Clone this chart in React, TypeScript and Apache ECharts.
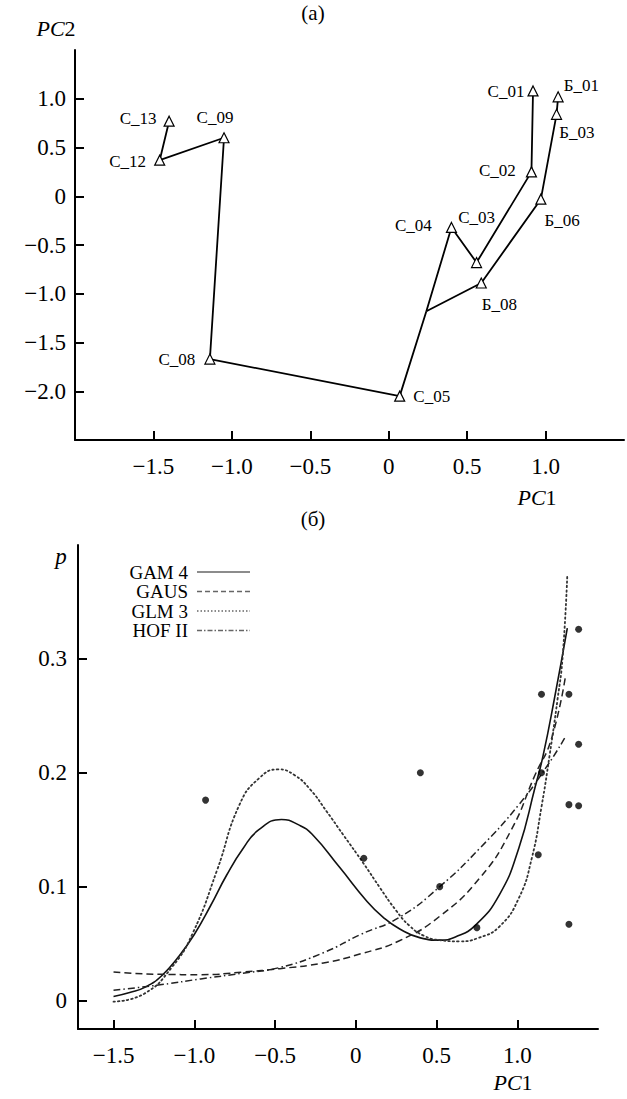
import React, { useEffect, useRef } from 'react';
import * as echarts from 'echarts';

const SERIF = 'Liberation Serif, Times New Roman, DejaVu Serif, serif';

// ---------- Panel (а): ordination PC1 / PC2 ----------
const trunkNames = ['С_13', 'С_12', 'С_09', 'С_08', 'С_05', ''];
const trunkPC1 = [-1.40, -1.46, -1.05, -1.14, 0.07, 0.24];
const trunkPC2 = [0.77, 0.37, 0.60, -1.67, -2.05, -1.18];

const cBranchNames = ['', 'С_04', 'С_03', 'С_02', 'С_01'];
const cBranchPC1 = [0.24, 0.40, 0.56, 0.91, 0.92];
const cBranchPC2 = [-1.18, -0.32, -0.68, 0.25, 1.08];

const bBranchNames = ['', 'Б_08', 'Б_06', 'Б_03', 'Б_01'];
const bBranchPC1 = [0.24, 0.59, 0.97, 1.07, 1.08];
const bBranchPC2 = [-1.18, -0.89, -0.03, 0.84, 1.02];

const topXTicks = [-1.5, -1.0, -0.5, 0, 0.5, 1.0];
const topYTicks = [-2.0, -1.5, -1.0, -0.5, 0, 0.5, 1.0];

// ---------- Panel (б): response curves ----------
const obsPC1 = [-0.93, 0.05, 0.40, 0.52, 0.75, 1.13, 1.15, 1.15, 1.32, 1.32, 1.32, 1.38, 1.38, 1.38];
const obsP = [0.176, 0.125, 0.20, 0.10, 0.064, 0.128, 0.20, 0.269, 0.067, 0.172, 0.269, 0.171, 0.225, 0.326];

const gamX = [-1.5, -1.4, -1.3, -1.2, -1.1, -1.0, -0.9, -0.8, -0.7, -0.6, -0.46, -0.35, -0.27, -0.1, 0.07, 0.17, 0.27, 0.4, 0.52, 0.62, 0.74, 0.89, 1.01, 1.11, 1.16, 1.23, 1.31];
const gamY = [0.0035, 0.007, 0.012, 0.022, 0.038, 0.058, 0.083, 0.11, 0.133, 0.15, 0.159, 0.154, 0.146, 0.117, 0.087, 0.073, 0.063, 0.055, 0.053, 0.056, 0.066, 0.093, 0.134, 0.187, 0.215, 0.265, 0.327];

const gausX = [-1.5, -1.2, -0.96, -0.7, -0.47, -0.2, 0.03, 0.27, 0.52, 0.77, 0.96, 1.11, 1.21, 1.3];
const gausY = [0.025, 0.023, 0.0227, 0.025, 0.028, 0.033, 0.041, 0.0525, 0.074, 0.108, 0.149, 0.198, 0.229, 0.286];

const glmX = [-1.5, -1.31, -1.14, -1.01, -0.86, -0.72, -0.6, -0.48, -0.38, -0.28, -0.18, -0.08, 0.05, 0.15, 0.25, 0.33, 0.42, 0.52, 0.64, 0.76, 0.89, 1.01, 1.09, 1.15, 1.2, 1.25, 1.28, 1.31];
const glmY = [-0.001, 0.006, 0.029, 0.059, 0.114, 0.172, 0.195, 0.203, 0.198, 0.185, 0.166, 0.146, 0.12, 0.099, 0.079, 0.066, 0.057, 0.053, 0.052, 0.055, 0.065, 0.09, 0.125, 0.17, 0.215, 0.265, 0.3, 0.374];

const hofX = [-1.5, -1.2, -0.96, -0.7, -0.47, -0.2, 0.03, 0.27, 0.52, 0.77, 1.01, 1.19, 1.3];
const hofY = [0.009, 0.014, 0.019, 0.024, 0.029, 0.042, 0.058, 0.073, 0.1, 0.134, 0.172, 0.207, 0.232];

const bottomXTicks = [-1.5, -1.0, -0.5, 0, 0.5, 1.0];
const bottomYTicks = [0, 0.1, 0.2, 0.3];

const legendNames = ['GAM 4', 'GAUS', 'GLM 3', 'HOF II'];

// ---------- styling (not data) ----------
const labelPlacement: Record<string, { position: string; offset: [number, number] }> = {
  'С_13': { position: 'left', offset: [-2, -3] },
  'С_12': { position: 'left', offset: [-3, 1] },
  'С_09': { position: 'top', offset: [-9, -1] },
  'С_08': { position: 'left', offset: [-4, 0] },
  'С_05': { position: 'right', offset: [3, 0] },
  'С_04': { position: 'left', offset: [-9, -2] },
  'С_03': { position: 'top', offset: [0, -26] },
  'С_02': { position: 'left', offset: [-5, -1] },
  'С_01': { position: 'left', offset: [2, 1] },
  'Б_01': { position: 'right', offset: [-5, -11] },
  'Б_03': { position: 'right', offset: [-8, 18] },
  'Б_06': { position: 'right', offset: [-7, 21] },
  'Б_08': { position: 'right', offset: [-10, 21] },
};

const lineStyles: any[] = [
  { type: 'solid', width: 1.6, color: '#111' },
  { type: [7, 4], width: 1.5, color: '#222' },
  { type: [1.5, 3], width: 1.8, color: '#333', cap: 'round' },
  { type: [7, 3, 1.5, 3], width: 1.5, color: '#222' },
];
const legendDash: any[] = [null, [5, 3], [1.5, 2], [5, 2, 1.5, 2]];

const fmt = (v: number) => {
  if (Math.abs(v) < 1e-9) return '0';
  const s = Math.abs(v).toFixed(1);
  return v < 0 ? '−' + s : s;
};

const zip = (xs: number[], ys: number[]) => xs.map((x, i) => [x, ys[i]]);

const pointData = (names: string[], xs: number[], ys: number[]) =>
  names.map((n, i) => {
    if (!n) {
      return { name: '', value: [xs[i], ys[i]], symbol: 'none', label: { show: false } };
    }
    const p = labelPlacement[n];
    return {
      name: n,
      value: [xs[i], ys[i]],
      label: { show: true, position: p.position, offset: p.offset },
    };
  });

const makeAxis = (labelSize: number, margin: number, ticks: number[]) => ({
  axisLine: { show: true, onZero: false, lineStyle: { color: '#000', width: 2 } },
  axisTick: { show: true, inside: true, length: 9, customValues: ticks, lineStyle: { color: '#000', width: 2 } },
  splitLine: { show: false },
  axisLabel: {
    color: '#000',
    fontFamily: SERIF,
    fontSize: labelSize,
    margin,
    customValues: ticks,
    formatter: (v: number) => fmt(v),
  },
});

const topSeriesBase = {
  type: 'line',
  xAxisIndex: 0,
  yAxisIndex: 0,
  symbol: 'triangle',
  symbolSize: 10,
  showSymbol: true,
  lineStyle: { color: '#000', width: 1.8 },
  itemStyle: { color: '#fff', borderColor: '#000', borderWidth: 1.2 },
  label: { formatter: '{b}', color: '#000', fontFamily: SERIF, fontSize: 17 },
  emphasis: { disabled: true },
  z: 3,
};

const italicPC = (digit: string, x: number, y: number) => ({
  type: 'text', x, y,
  style: {
    text: '{i|PC}{n|' + digit + '}', fill: '#000', align: 'center', verticalAlign: 'middle',
    fontFamily: SERIF, fontSize: 22,
    rich: {
      i: { fontStyle: 'italic', fontFamily: SERIF, fontSize: 22, fill: '#000' },
      n: { fontFamily: SERIF, fontSize: 22, fill: '#000' },
    },
  },
});

const option: any = {
  animation: false,
  backgroundColor: '#fff',
  grid: [
    { left: 75, right: 3, top: 50, bottom: 1099 - 440, containLabel: false },
    { left: 78, right: 29, top: 545, bottom: 1099 - 1029, containLabel: false },
  ],
  xAxis: [
    { type: 'value', gridIndex: 0, min: -2.0, max: 1.5, ...makeAxis(23, 15, topXTicks) },
    { type: 'value', gridIndex: 1, min: -1.72, max: 1.5, ...makeAxis(23, 15, bottomXTicks) },
  ],
  yAxis: [
    { type: 'value', gridIndex: 0, min: -2.5, max: 1.5, ...makeAxis(23, 9, topYTicks) },
    { type: 'value', gridIndex: 1, min: -0.025, max: 0.4, ...makeAxis(23, 11, bottomYTicks) },
  ],
  series: [
    { ...topSeriesBase, name: 'trunk', data: pointData(trunkNames, trunkPC1, trunkPC2) },
    { ...topSeriesBase, name: 'С branch', data: pointData(cBranchNames, cBranchPC1, cBranchPC2) },
    { ...topSeriesBase, name: 'Б branch', data: pointData(bBranchNames, bBranchPC1, bBranchPC2) },
    ...[
      [gamX, gamY],
      [gausX, gausY],
      [glmX, glmY],
      [hofX, hofY],
    ].map(([xs, ys], i) => ({
      type: 'line',
      name: legendNames[i],
      xAxisIndex: 1,
      yAxisIndex: 1,
      data: zip(xs, ys),
      smooth: 0.5,
      showSymbol: false,
      symbol: 'none',
      lineStyle: lineStyles[i],
      emphasis: { disabled: true },
      z: 2,
    })),
    {
      type: 'scatter',
      name: 'observed',
      xAxisIndex: 1,
      yAxisIndex: 1,
      data: zip(obsPC1, obsP),
      symbol: 'circle',
      symbolSize: 7,
      itemStyle: { color: '#000' },
      emphasis: { disabled: true },
      z: 4,
    },
  ],
  graphic: [
    {
      type: 'text', x: 313, y: 13,
      style: { text: '(а)', fontFamily: SERIF, fontSize: 21, fill: '#000', align: 'center', verticalAlign: 'middle' },
    },
    { ...italicPC('2', 56, 28) },
    { ...italicPC('1', 537, 497) },
    {
      type: 'text', x: 313, y: 519,
      style: { text: '(б)', fontFamily: SERIF, fontSize: 21, fill: '#000', align: 'center', verticalAlign: 'middle' },
    },
    {
      type: 'text', x: 61, y: 556,
      style: { text: 'p', fontFamily: SERIF, fontSize: 23, fontStyle: 'italic', fill: '#000', align: 'center', verticalAlign: 'middle' },
    },
    { ...italicPC('1', 513, 1082) },
    ...legendNames.flatMap((n, i) => {
      const y = 572 + i * 19.5;
      const line: any = {
        type: 'line',
        shape: { x1: 197, y1: y, x2: 250, y2: y },
        style: { stroke: '#666', lineWidth: 1.5, lineDash: legendDash[i] || undefined },
      };
      return [
        {
          type: 'text', x: 188, y,
          style: { text: n, fontFamily: SERIF, fontSize: 19, fill: '#000', align: 'right', verticalAlign: 'middle' },
        },
        line,
      ];
    }),
  ],
};

export default function App() {
  const ref = useRef<HTMLDivElement>(null);
  useEffect(() => {
    document.body.style.margin = '0';
    const chart = echarts.init(ref.current!, null, { renderer: 'svg' });
    chart.setOption(option);
    return () => chart.dispose();
  }, []);
  return <div ref={ref} style={{ width: 627, height: 1099 }} />;
}
